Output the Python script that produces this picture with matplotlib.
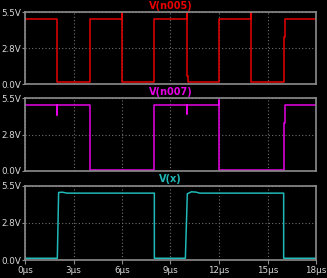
import numpy as np
import matplotlib
matplotlib.use('Agg')
import matplotlib.pyplot as plt

# LTspice-style transient plot: three stacked panes

# waveform breakpoints (time in us, voltage in V)
t_n005 = [0, 2.0, 2.0, 4.0, 4.0, 6.0, 6.0, 6.0, 8.0, 8.0, 10.0, 10.0, 10.0, 10.06, 10.06,
          12.0, 12.0, 14.0, 14.0, 14.0, 16.0, 16.0, 16.06, 16.06, 18.0]
v_n005 = [5.0, 5.0, 0.12, 0.12, 5.0, 5.0, 5.45, 0.12, 0.12, 5.0, 5.0, 5.4, 0.6, 0.6, 0.12,
          0.12, 5.0, 5.0, 5.45, 0.12, 0.12, 3.6, 3.6, 5.0, 5.0]

t_n007 = [0, 2.0, 2.0, 2.0, 4.0, 4.0, 8.0, 8.0, 10.0, 10.0, 10.0, 12.0, 12.0, 12.0,
          16.0, 16.0, 16.06, 16.06, 18.0]
v_n007 = [4.97, 4.97, 4.2, 4.97, 4.97, 0.08, 0.08, 4.97, 4.97, 4.3, 4.97, 4.97, 5.35, 0.08,
          0.08, 3.6, 3.6, 4.97, 4.97]

t_x = [0, 2.0, 2.08, 2.3, 2.6, 8.0, 8.0, 9.92, 10.04, 10.3, 10.6, 10.8, 16.0, 16.0, 18.0]
v_x = [0.13, 0.13, 5.0, 5.02, 4.95, 4.95, 0.13, 0.13, 4.9, 5.05, 5.02, 4.95, 4.95, 0.13, 0.13]

xticks = [0, 3, 6, 9, 12, 15, 18]
xlabels = ['0µs', '3µs', '6µs', '9µs', '12µs', '15µs', '18µs']
yticks = [0.0, 2.75, 5.5]
ylabels = ['0.0V', '2.8V', '5.5V']

traces = [
    ('V(n005)', t_n005, v_n005, '#e80000'),
    ('V(n007)', t_n007, v_n007, '#e600e6'),
    ('V(x)', t_x, v_x, '#20b8b8'),
]

W, H = 327, 278
fig = plt.figure(figsize=(W / 100, H / 100), dpi=100, facecolor='black')

# pane extents in pixels (top, bottom)
panes = [(12, 84), (98.3, 171), (185.7, 260)]
left, right = 25, 316

frame = '#8c8c8c'
txt = '#d8d8d8'

for i, (name, t, v, col) in enumerate(traces):
    top, bot = panes[i]
    ax = fig.add_axes([left / W, 1 - bot / H, (right - left) / W, (bot - top) / H])
    ax.set_facecolor('black')
    ax.plot(t, v, color=col, lw=1.1)
    ax.set_xlim(0, 18)
    ax.set_ylim(0, 5.5)
    for s in ax.spines.values():
        s.set_color(frame)
        s.set_linewidth(1.2)
    ax.set_xticks(xticks)
    ax.set_yticks(yticks)
    ax.set_yticklabels(ylabels)
    ax.grid(True, color='#707070', linestyle=(0, (1, 2)), linewidth=0.8)
    ax.tick_params(axis='y', colors=frame, labelcolor=txt, labelsize=6.3, length=2.5, pad=0.5)
    if i == 2:
        ax.set_xticklabels(xlabels)
        ax.tick_params(axis='x', colors=frame, labelcolor=txt, labelsize=6.3, length=3, pad=1)
    else:
        ax.tick_params(axis='x', length=0, labelbottom=False)
    ax.set_title(name, color=col, fontsize=7, fontweight='bold', pad=2.5)

fig.savefig('out.png', dpi=100, facecolor='black')
